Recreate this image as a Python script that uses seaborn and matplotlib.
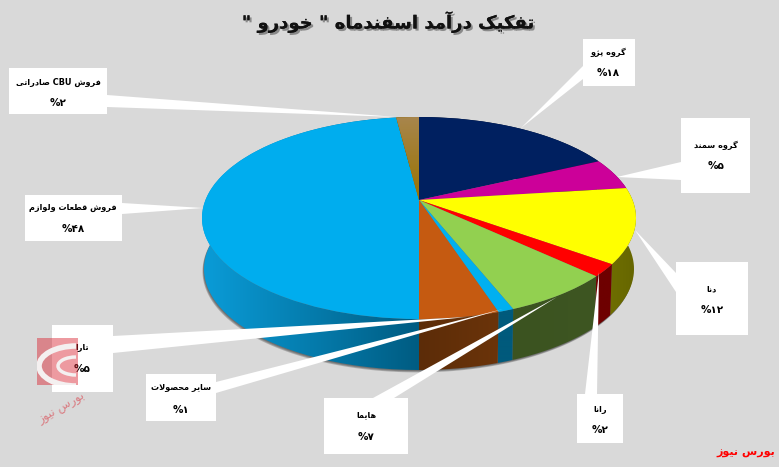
import numpy as np
import seaborn as sns
import matplotlib
matplotlib.use("Agg")
import matplotlib.pyplot as plt
import matplotlib.patheffects as pe
from matplotlib.colors import to_rgb
from matplotlib.patches import Arc, Rectangle
from matplotlib.path import Path
from matplotlib.transforms import Affine2D, Transform

# data, clockwise from 12 o'clock
names = ["گروه پژو", "گروه سمند", "دنا", "رانا", "هایما", "سایر محصولات", "تارا",
         "فروش قطعات ولوازم", "فروش CBU صادراتی"]
shares = [18, 5, 12, 2, 7, 1, 5, 48, 2]
title_text = 'تفکیک درآمد اسفندماه " خودرو "'
source_text = "بورس نیوز"

top_colors = ["#002060", "#CC0099", "#FFFF00", "#FF0000", "#92D050",
              "#00B0F0", "#C55A11", "#00ADEE", "#997300"]
wall_colors = [("#001030", "#001030"), ("#660050", "#660050"), ("#6E6E00", "#666600"),
               ("#6E0000", "#6E0000"), ("#3B5320", "#3E5622"), ("#005A7C", "#005A7C"),
               ("#5C2C08", "#6B340A"), ("#0A9CD8", "#005C82"), ("#4C3A00", "#4C3A00")]

# box x0, x1, y0, y1, text x, first line y, second line y, leader base a, leader base b, tip
callouts = [
    (583, 635, 39, 86, 608, 52, 73, (583, 66), (583, 79), (521, 128)),
    (681, 750, 118, 193, 716, 145, 166, (681, 162), (681, 180), (617, 177)),
    (676, 748, 262, 335, 712, 289, 310, (676, 273), (676, 292), (635, 230)),
    (577, 623, 394, 443, 600, 409, 430, (585, 394), (597, 394), (599, 272)),
    (324, 408, 398, 454, 366, 415, 437, (373, 398), (394, 398), (557, 297)),
    (146, 216, 374, 421, 181, 388, 410, (216, 382), (216, 393), (503, 309)),
    (52, 113, 325, 392, 82, 348, 369, (113, 336), (113, 353), (467, 317)),
    (25, 122, 195, 241, 73, 208, 229, (122, 203), (122, 214), (203, 208)),
    (9, 107, 68, 114, 58, 82, 103, (107, 95), (107, 107), (397, 117)),
]

FORMS = {"ا": (0xFE8D, 2), "آ": (0xFE81, 2), "ب": (0xFE8F, 4), "پ": (0xFB56, 4), "ت": (0xFE95, 4),
         "ح": (0xFEA1, 4), "خ": (0xFEA5, 4), "د": (0xFEA9, 2), "ر": (0xFEAD, 2), "ز": (0xFEAF, 2),
         "ژ": (0xFB8A, 2), "س": (0xFEB1, 4), "ش": (0xFEB5, 4), "ص": (0xFEB9, 4), "ط": (0xFEC1, 4),
         "ع": (0xFEC9, 4), "ف": (0xFED1, 4), "ق": (0xFED5, 4), "ک": (0xFB8E, 4), "گ": (0xFB92, 4),
         "ل": (0xFEDD, 4), "م": (0xFEE1, 4), "ن": (0xFEE5, 4), "ه": (0xFEE9, 4), "و": (0xFEED, 2),
         "ی": (0xFBFC, 4)}


def shape(text):
    # matplotlib has no arabic shaping, so pick the joined forms and flip to visual order
    out = []
    i = 0
    while i < len(text):
        ch = text[i]
        prev = text[i - 1] if i else ""
        joined = prev in FORMS and FORMS[prev][1] == 4
        nxt = text[i + 1] if i + 1 < len(text) else ""
        if ch == "ل" and nxt == "ا":
            out.append(chr(0xFEFC if joined else 0xFEFB))
            i += 2
            continue
        if ch in FORMS:
            code, n = FORMS[ch]
            to_next = n == 4 and nxt in FORMS
            form = (3 if to_next else 1) if joined else (2 if to_next else 0)
            out.append(chr(code + form))
        else:
            out.append(ch)
        i += 1
    result, run = [], ""
    for ch in reversed(out):
        if ch.isascii() and ch.isalpha():
            run = ch + run
        else:
            result.append(run)
            run = ""
            result.append(ch)
    result.append(run)
    return "".join(result)


def fa_percent(value):
    return "%" + "".join("۰۱۲۳۴۵۶۷۸۹"[int(d)] for d in str(value))


class Tilt(Transform):
    # perspective of the disc, the centre lands above the middle of the ellipse
    input_dims = output_dims = 2
    c = 0.178

    def transform_non_affine(self, values):
        values = np.asarray(values, dtype=float)
        x, y = values[:, 0], values[:, 1]
        d = 1 + self.c * y
        return np.column_stack([x * np.sqrt(1 - self.c ** 2) / d, (y + self.c) / d])


sns.set_theme(style="white", rc={"figure.facecolor": "#D9D9D9", "axes.facecolor": "#D9D9D9"})
plt.rcParams["font.family"] = ["DejaVu Sans"]

fig = plt.figure(figsize=(7.79, 4.67), dpi=100)
ax = fig.add_axes([0, 0, 1, 1])
wedges, _ = ax.pie(shares, colors=sns.color_palette(top_colors), startangle=90, counterclock=False,
                   wedgeprops={"linewidth": 0, "zorder": 5})
ax.set_aspect("auto")
ax.set_xlim(0, 779)
ax.set_ylim(467, 0)
ax.axis("off")

top_place = Tilt() + Affine2D().scale(217, -101).translate(419, 218)
bottom_place = Tilt() + Affine2D().scale(215, -101).translate(419, 269)
for w in wedges:
    w.set_transform(top_place + ax.transData)

# shadow under the body
theta = np.radians(np.linspace(0, 360, 361))
circle = np.column_stack([np.sin(theta), np.cos(theta)])
rim = bottom_place.transform(circle)
for off in [3, 2, 1]:
    ax.fill(rim[:, 0] - off * 0.5, rim[:, 1] + off * 0.8, color="#303030", alpha=0.28, lw=0, zorder=1)

# side wall, one gradient per slice
edges = np.cumsum([0] + shares) * 3.6
for a0, a1, (left, right) in zip(edges[:-1], edges[1:], wall_colors):
    t = np.radians(np.linspace(a0, a1, 120))
    pts = np.column_stack([np.sin(t), np.cos(t)])
    upper = top_place.transform(pts)
    lower = bottom_place.transform(pts)
    verts = np.vstack([upper, lower[::-1], upper[:1]])
    ramp = np.linspace(to_rgb(left), to_rgb(right), 128)[np.newaxis, :, :]
    im = ax.imshow(ramp, extent=(verts[:, 0].min(), verts[:, 0].max(), verts[:, 1].max(), verts[:, 1].min()),
                   aspect="auto", interpolation="bilinear", zorder=2)
    im.set_clip_path(Path(verts), ax.transData)

# the last slice fades to a paler brown at the rim
fade = np.linspace(to_rgb("#A8864E"), to_rgb("#997300"), 64)[:, np.newaxis, :]
im = ax.imshow(fade, extent=(390, 425, 200, 115), aspect="auto", interpolation="bilinear", zorder=5.5)
im.set_clip_path(wedges[-1])
ax.set_xlim(0, 779)
ax.set_ylim(467, 0)

# leaders, boxes and labels
for name, share, box in zip(names, shares, callouts):
    x0, x1, y0, y1, tx, ty1, ty2, base_a, base_b, tip = box
    ax.fill([base_a[0], base_b[0], tip[0]], [base_a[1], base_b[1], tip[1]], color="white", lw=0, zorder=6)
    ax.add_patch(Rectangle((x0, y0), x1 - x0, y1 - y0, facecolor="white", edgecolor="none", zorder=7))
    ax.text(tx, ty1, shape(name), ha="center", va="center", fontsize=5.9, fontweight="bold", color="black", zorder=8)
    ax.text(tx, ty2, fa_percent(share), ha="center", va="center", fontsize=7.5, fontweight="bold", color="black", zorder=8)

ax.text(388, 22, shape(title_text), ha="center", va="center", fontsize=13, fontweight="bold", color="#111111",
        zorder=8, path_effects=[pe.withSimplePatchShadow(offset=(1.5, -1.5), shadow_rgbFace="#555555", alpha=0.6), pe.Normal()])
ax.text(746, 453, shape(source_text), ha="center", va="center", fontsize=8, fontweight="bold", color="#FF0000", zorder=8)

# logo watermark
logo = Rectangle((37, 338), 41, 47, facecolor="#D9202C", edgecolor="none", alpha=0.45, zorder=9)
ax.add_patch(logo)
for width, height, lw in [(74, 40, 4), (36, 18, 2.5)]:
    swoosh = Arc((76, 366), width, height, theta1=90, theta2=270, color="#F4F0F0", lw=lw, zorder=10)
    ax.add_patch(swoosh)
    swoosh.set_clip_path(logo)
ax.text(62, 408, shape(source_text), ha="center", va="center", fontsize=8.5, color="#D9202C",
        alpha=0.5, rotation=30, zorder=9)

fig.savefig("out.png", dpi=100, facecolor=fig.get_facecolor())
